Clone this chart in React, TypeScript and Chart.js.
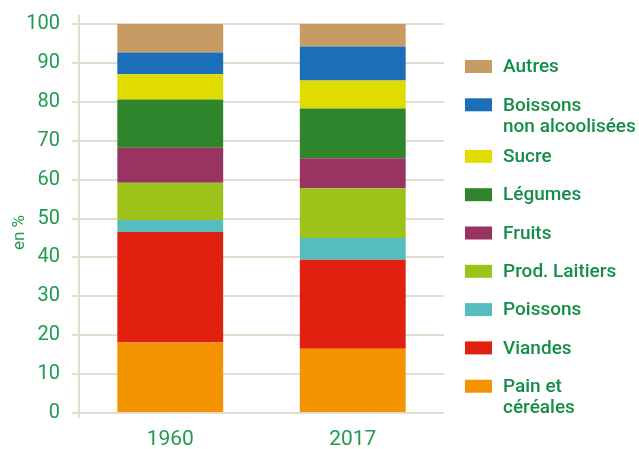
import React, { useEffect, useRef } from "react";
import { Chart, registerables } from "chart.js";

Chart.register(...registerables);

const categories = ["1960", "2017"];
const painCereales = [18.1, 16.5];
const viandes = [28.4, 22.9];
const poissons = [3.1, 5.6];
const prodLaitiers = [9.6, 12.8];
const fruits = [9.0, 7.7];
const legumes = [12.4, 12.8];
const sucre = [6.5, 7.2];
const boissons = [5.6, 8.7];
const autres = [7.3, 5.8];
const yTicks = [0, 10, 20, 30, 40, 50, 60, 70, 80, 90, 100];
const yTitle = "en %";

const TICK_GREEN = "#1f9b50";
const LEGEND_GREEN = "#148d47";
const GRID = "#e6dccd";

const seriesDefs = [
  { label: "Pain et\ncéréales", data: painCereales, color: "#f39300" },
  { label: "Viandes", data: viandes, color: "#e2200f" },
  { label: "Poissons", data: poissons, color: "#55bdbe" },
  { label: "Prod. Laitiers", data: prodLaitiers, color: "#9dc21a" },
  { label: "Fruits", data: fruits, color: "#993462" },
  { label: "Légumes", data: legumes, color: "#2e852c" },
  { label: "Sucre", data: sucre, color: "#e0dc00" },
  { label: "Boissons\nnon alcoolisées", data: boissons, color: "#1a6fb8" },
  { label: "Autres", data: autres, color: "#c89b65" },
];

const customPlugin = {
  id: "customLegendAxis",
  beforeDatasetsDraw(chart: any) {
    const { ctx, chartArea } = chart;
    ctx.save();
    ctx.strokeStyle = GRID;
    ctx.lineWidth = 2;
    ctx.beginPath();
    ctx.moveTo(chartArea.left, chartArea.top - 9);
    ctx.lineTo(chartArea.left, chartArea.bottom + 5);
    ctx.stroke();
    ctx.restore();
  },
  afterDraw(chart: any) {
    const { ctx, chartArea } = chart;
    // axis title
    ctx.save();
    ctx.translate(20, (chartArea.top + chartArea.bottom) / 2 + 14);
    ctx.rotate(-Math.PI / 2);
    ctx.font = "17px Roboto";
    ctx.fillStyle = TICK_GREEN;
    ctx.textAlign = "center";
    ctx.textBaseline = "middle";
    ctx.fillText(yTitle, 0, 0);
    ctx.restore();

    const datasets = chart.data.datasets;
    const swX = chartArea.right + 21;
    const textX = chartArea.right + 59;
    let y = 66.5;
    ctx.save();
    ctx.font = "500 19px Roboto";
    ctx.textBaseline = "middle";
    ctx.textAlign = "left";
    for (let i = datasets.length - 1; i >= 0; i--) {
      const ds = datasets[i];
      const lines = String(ds.label).split("\n");
      ctx.fillStyle = ds.backgroundColor;
      ctx.fillRect(swX, y - 6.5, 27, 13);
      ctx.fillStyle = LEGEND_GREEN;
      lines.forEach((ln: string, k: number) => {
        ctx.fillText(ln, textX, y + 1 + k * 21);
      });
      y += 38.3 + (lines.length - 1) * 13.3;
    }
    ctx.restore();
  },
};

export default function App() {
  const ref = useRef<HTMLCanvasElement | null>(null);
  useEffect(() => {
    if (!ref.current) return;
    Chart.defaults.font.family = "Roboto";
    const chart = new Chart(ref.current, {
      type: "bar",
      data: {
        labels: categories,
        datasets: seriesDefs.map((s) => ({
          label: s.label,
          data: s.data,
          backgroundColor: s.color,
          borderWidth: 0,
          categoryPercentage: 1,
          barPercentage: 0.58,
        })),
      },
      options: {
        responsive: false,
        animation: false,
        layout: { padding: { top: 23, right: 195, left: 0, bottom: 0 } },
        plugins: { legend: { display: false }, tooltip: { enabled: false } },
        scales: {
          x: {
            stacked: true,
            grid: { display: false, drawTicks: false },
            border: { display: false },
            ticks: { color: TICK_GREEN, font: { size: 21 }, padding: 14 },
            afterFit: (s: any) => {
              s.height = 36;
            },
          },
          y: {
            stacked: true,
            min: 0,
            max: 100,
            afterBuildTicks: (s: any) => {
              s.ticks = yTicks.map((v) => ({ value: v }));
            },
            grid: { color: GRID, lineWidth: 2, tickLength: 7 },
            border: { display: false },
            ticks: { color: TICK_GREEN, font: { size: 20 }, padding: 12 },
            title: { display: false },
            afterFit: (s: any) => {
              s.width = 79;
            },
          },
        },
      },
      plugins: [customPlugin],
    });
    return () => chart.destroy();
  }, []);
  return (
    <div style={{ position: "fixed", left: 0, top: 0, width: 639, height: 449, background: "#fff" }}>
      <canvas ref={ref} width={639} height={449} style={{ display: "block" }} />
    </div>
  );
}
